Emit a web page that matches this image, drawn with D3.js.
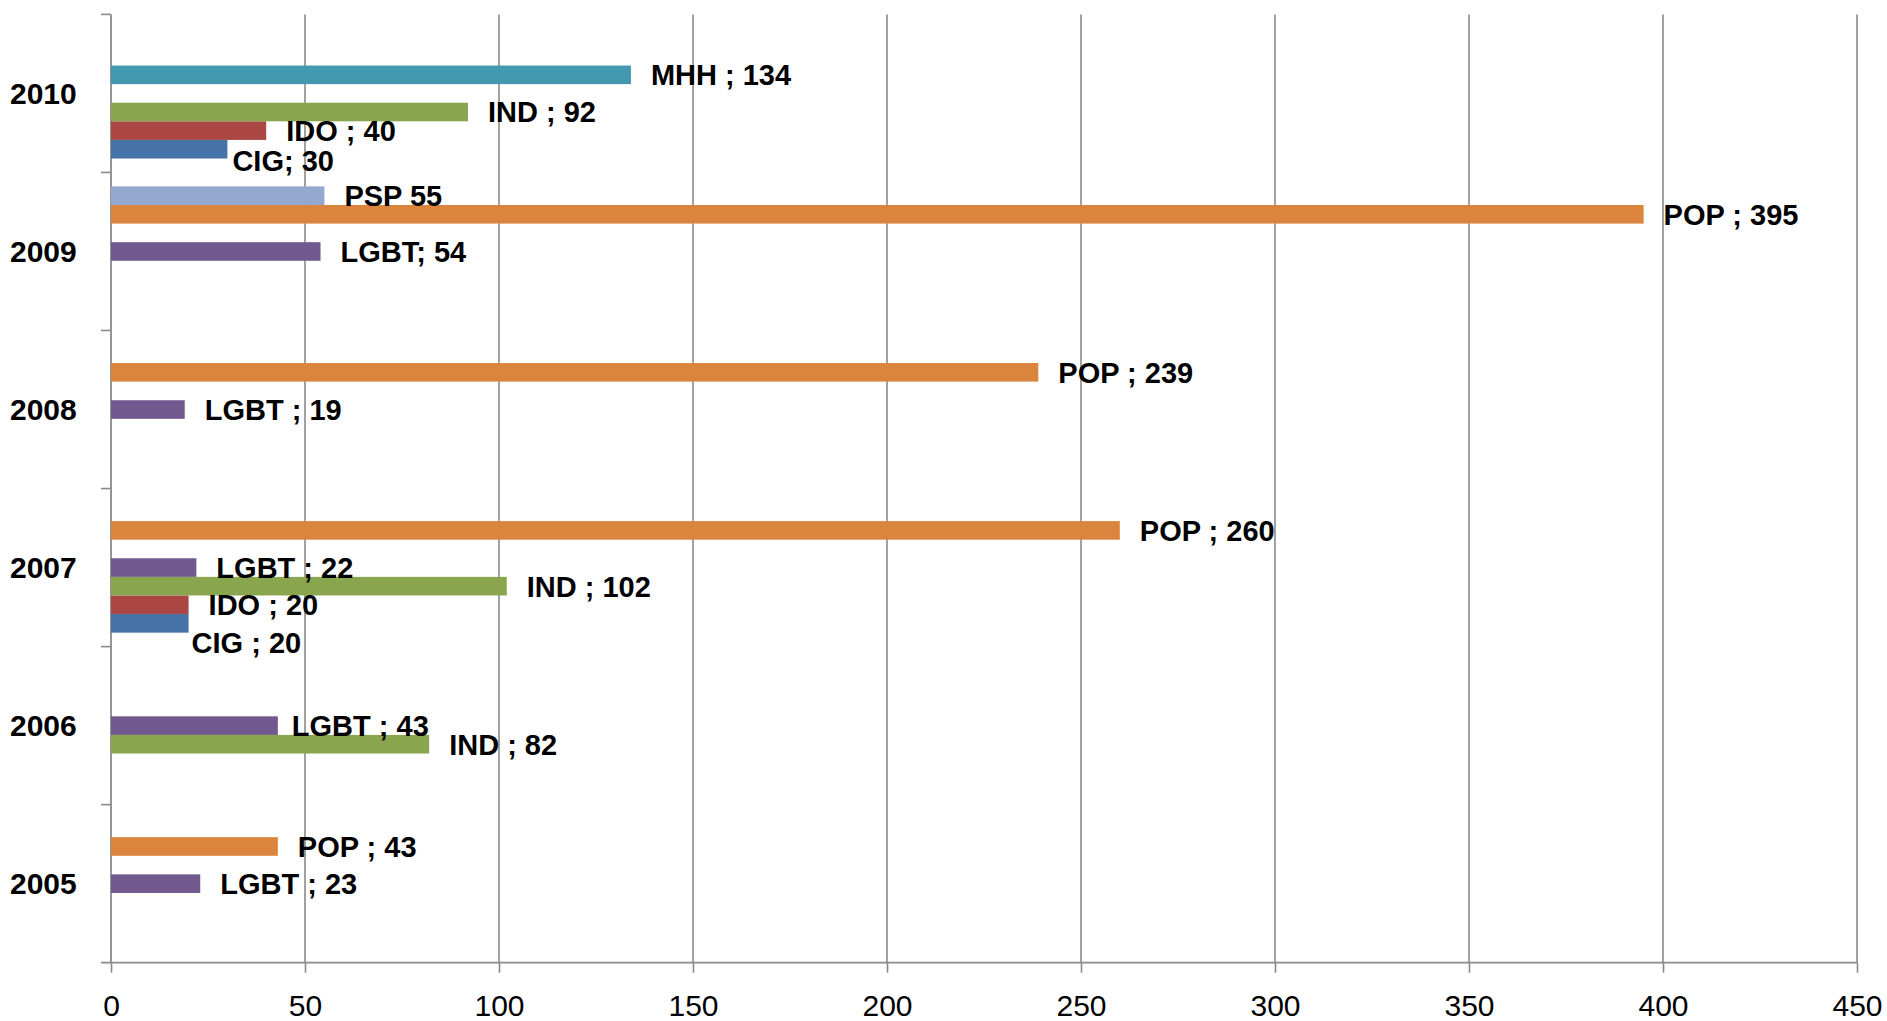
<!DOCTYPE html>
<html>
<head>
<meta charset="utf-8">
<script src="https://cdn.jsdelivr.net/npm/d3@7"></script>
<style>
  html, body { margin: 0; padding: 0; background: #ffffff; }
  svg { display: block; }
</style>
</head>
<body>
<svg id="chart" width="1887" height="1021"></svg>
<script>
// ---------------- DATA ----------------
const years = [2005, 2006, 2007, 2008, 2009, 2010];
const seriesNames = ["CIG", "IDO", "IND", "LGBT", "MHH", "POP", "PSP"];
const cigValues  = [null, null, 20, null, null, 30];
const idoValues  = [null, null, 20, null, null, 40];
const indValues  = [null, 82, 102, null, null, 92];
const lgbtValues = [23, 43, 22, 19, 54, null];
const mhhValues  = [null, null, null, null, null, 134];
const popValues  = [43, null, 260, 239, 395, null];
const pspValues  = [null, null, null, null, 55, null];
const xTicks = [0, 50, 100, 150, 200, 250, 300, 350, 400, 450];
// label separators as written in the original (default " ; ")
const labelSeparators = { "CIG-2010": "; ", "PSP-2009": " ", "LGBT-2009": "; " };

(function () {
// ---------------- STYLE ----------------
const colors = {
  CIG: "#4572A7", IDO: "#AA4643", IND: "#89A54E", LGBT: "#71588F",
  MHH: "#4198AF", POP: "#DB843D", PSP: "#93A9CF"
};
// manual data-label nudges (px) like in the source chart
const labelNudge = {
  "CIG-2010": { dx: -15, dy: 11 },
  "CIG-2007": { dx: -17, dy: 19 },
  "LGBT-2006": { dx: -6, dy: 0 }
};

const valuesBySeries = {
  CIG: cigValues, IDO: idoValues, IND: indValues, LGBT: lgbtValues,
  MHH: mhhValues, POP: popValues, PSP: pspValues
};

const svg = d3.select("#chart");
const mLeft = 111, mRight = 1857, mTop = 14.4, mBottom = 962.7;
const axisColor = "#8a8a8a";
const fontFam = "'Liberation Sans', Arial, sans-serif";

const x = d3.scaleLinear().domain([0, 450]).range([mLeft, mRight]);
const y = d3.scaleBand().domain(years.slice().reverse()).range([mTop, mBottom]).paddingInner(0).paddingOuter(0);
// Excel bar order: first series at bottom of each group
const inner = d3.scaleBand().domain(seriesNames.slice().reverse())
  .range([0, y.bandwidth()]).paddingInner(0).paddingOuter(0.75);

// gridlines
svg.append("g").selectAll("line").data(xTicks.filter(t => t > 0)).join("line")
  .attr("x1", d => x(d)).attr("x2", d => x(d))
  .attr("y1", mTop).attr("y2", mBottom)
  .attr("stroke", axisColor).attr("stroke-width", 1.6);

// x axis
const xAxis = d3.axisBottom(x).tickValues(xTicks).tickSize(10).tickPadding(22).tickFormat(d3.format("d"));
const gx = svg.append("g").attr("transform", `translate(0,${mBottom})`).call(xAxis);
gx.select(".domain").remove();
gx.selectAll(".tick line").attr("stroke", axisColor).attr("stroke-width", 1.6);
gx.selectAll(".tick text").attr("fill", "#000").attr("font-family", fontFam)
  .attr("font-size", 30).attr("dy", "0.71em");
svg.append("line").attr("x1", mLeft - 10).attr("x2", mRight).attr("y1", mBottom).attr("y2", mBottom)
  .attr("stroke", axisColor).attr("stroke-width", 1.8);

// y axis
svg.append("line").attr("x1", mLeft).attr("x2", mLeft).attr("y1", mTop).attr("y2", mBottom)
  .attr("stroke", axisColor).attr("stroke-width", 1.8);
const boundaries = y.domain().map(d => y(d));
svg.append("g").selectAll("line").data(boundaries).join("line")
  .attr("x1", mLeft - 10).attr("x2", mLeft).attr("y1", d => d).attr("y2", d => d)
  .attr("stroke", axisColor).attr("stroke-width", 1.6);
svg.append("g").selectAll("text").data(years).join("text")
  .attr("x", 10).attr("y", d => y(d) + y.bandwidth() / 2)
  .attr("dy", "0.36em")
  .attr("font-family", fontFam).attr("font-size", 30).attr("font-weight", "bold")
  .attr("fill", "#000").text(d => d);

// bars + labels
const records = [];
seriesNames.forEach(s => {
  valuesBySeries[s].forEach((v, i) => {
    if (v !== null) records.push({ series: s, year: years[i], value: v });
  });
});

svg.append("g").selectAll("rect").data(records).join("rect")
  .attr("x", x(0))
  .attr("y", d => y(d.year) + inner(d.series))
  .attr("width", d => x(d.value) - x(0))
  .attr("height", inner.bandwidth())
  .attr("fill", d => colors[d.series]);

svg.append("g").selectAll("text").data(records).join("text")
  .attr("x", d => x(d.value) + 20 + ((labelNudge[d.series + "-" + d.year] || {}).dx || 0))
  .attr("y", d => y(d.year) + inner(d.series) + inner.bandwidth() / 2 + ((labelNudge[d.series + "-" + d.year] || {}).dy || 0))
  .attr("dy", "0.36em")
  .attr("font-family", fontFam).attr("font-size", 29).attr("font-weight", "bold")
  .attr("fill", "#000")
  .text(d => {
    const k = d.series + "-" + d.year;
    const sep = labelSeparators[k] !== undefined ? labelSeparators[k] : " ; ";
    return d.series + sep + d.value;
  });
})();
</script>
</body>
</html>
